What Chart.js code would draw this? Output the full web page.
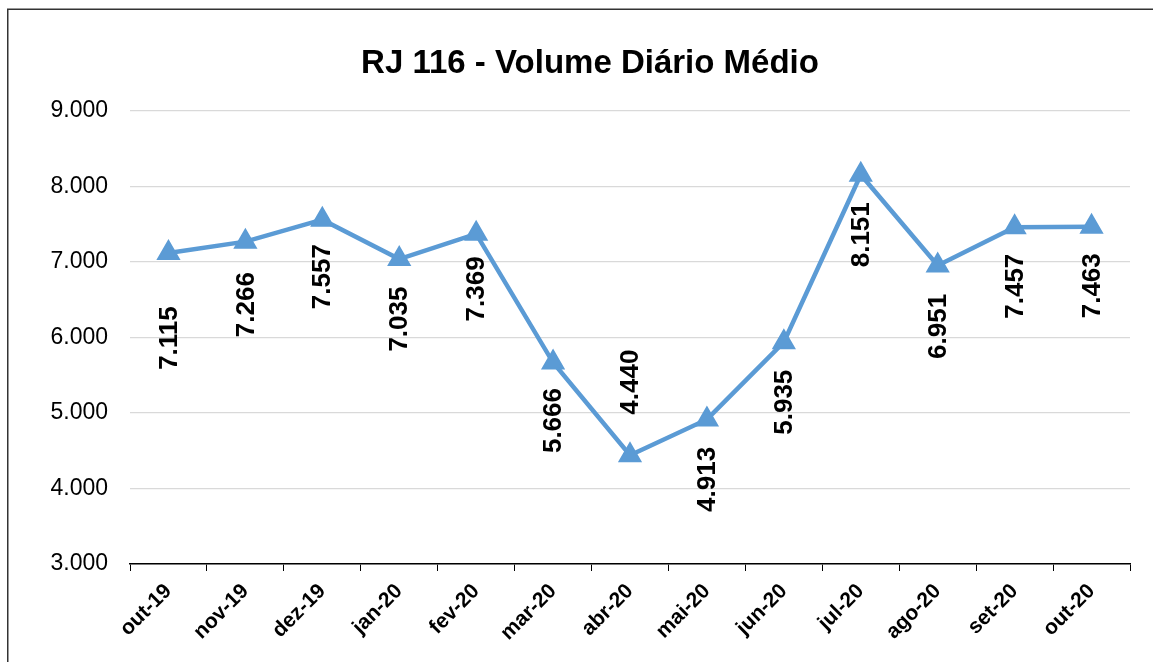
<!DOCTYPE html>
<html>
<head>
    <title>RJ 116 - Volume Diário Médio</title>
    <script src="https://cdn.jsdelivr.net/npm/chart.js"></script>
    <style>
        body { margin: 0; background: #fff; }
    </style>
</head>
<body>
    <canvas id="volumeChart" width="1153" height="662"></canvas>

    <script>
        const months = ['out-19', 'nov-19', 'dez-19', 'jan-20', 'fev-20', 'mar-20', 'abr-20',
                        'mai-20', 'jun-20', 'jul-20', 'ago-20', 'set-20', 'out-20'];
        const dailyVolume = [7115, 7266, 7557, 7035, 7369, 5666, 4440, 4913, 5935, 8151, 6951, 7457, 7463];
        const yTicks = [3000, 4000, 5000, 6000, 7000, 8000, 9000];

        // vertical distance of each value label from its point (negative = above the point)
        const labelShift = [85, 63, 57, 60, 55, 58, -73, 60, 60, 60, 61, 59, 59];

        const FONT = "'Liberation Sans', Arial, sans-serif";
        const BLUE = '#5B9BD5';

        // 7115 -> "7.115"
        const fmt = n => String(n).replace(/\B(?=(\d{3})+(?!\d))/g, '.');

        // white background plus the frame line on the left and top
        const frame = {
            id: 'frame',
            beforeDraw(chart) {
                const ctx = chart.ctx;
                ctx.save();
                ctx.fillStyle = '#fff';
                ctx.fillRect(0, 0, chart.width, chart.height);
                ctx.strokeStyle = '#333';
                ctx.lineWidth = 1.5;
                ctx.beginPath();
                ctx.moveTo(7.75, chart.height);
                ctx.lineTo(7.75, 9.25);
                ctx.lineTo(chart.width, 9.25);
                ctx.stroke();
                ctx.restore();
            }
        };

        // rotated value labels next to each point
        const valueLabels = {
            id: 'valueLabels',
            afterDatasetsDraw(chart) {
                const ctx = chart.ctx;
                const meta = chart.getDatasetMeta(0);
                ctx.save();
                ctx.font = 'bold 26px ' + FONT;
                ctx.fillStyle = '#000';
                ctx.textAlign = 'center';
                ctx.textBaseline = 'middle';
                meta.data.forEach((pt, i) => {
                    ctx.save();
                    ctx.translate(pt.x + 1, pt.y + labelShift[i]);
                    ctx.rotate(-Math.PI / 2);
                    ctx.fillText(fmt(dailyVolume[i]), 0, 0);
                    ctx.restore();
                });
                ctx.restore();
            }
        };

        const ctx = document.getElementById('volumeChart').getContext('2d');
        new Chart(ctx, {
            type: 'line',
            data: {
                labels: months,
                datasets: [{
                    label: 'Volume Diário Médio',
                    data: dailyVolume,
                    borderColor: BLUE,
                    backgroundColor: BLUE,
                    borderWidth: 4.5,
                    pointStyle: 'triangle',
                    pointRadius: 12,
                    pointBorderWidth: 2,
                    pointBackgroundColor: BLUE,
                    pointBorderColor: BLUE,
                    tension: 0,
                    fill: false
                }]
            },
            options: {
                responsive: false,
                animation: false,
                layout: {
                    padding: { left: 50, right: 23, top: 0, bottom: 0 }
                },
                plugins: {
                    legend: { display: false },
                    tooltip: { enabled: false },
                    title: {
                        display: true,
                        text: 'RJ 116 - Volume Diário Médio',
                        color: '#000',
                        font: { family: FONT, size: 33, weight: 'bold' },
                        padding: { top: 44, bottom: 27 }
                    }
                },
                scales: {
                    x: {
                        offset: true,
                        grid: {
                            offset: true,
                            drawOnChartArea: false,
                            drawTicks: true,
                            tickLength: 7,
                            color: '#000'
                        },
                        border: { color: '#000', width: 1.5 },
                        ticks: {
                            color: '#000',
                            font: { family: FONT, size: 21, weight: 'bold' },
                            minRotation: 45,
                            maxRotation: 45,
                            padding: 8
                        },
                        afterFit(scale) { scale.height = 98; }
                    },
                    y: {
                        min: yTicks[0],
                        max: yTicks[yTicks.length - 1],
                        afterBuildTicks(scale) {
                            scale.ticks = yTicks.map(v => ({ value: v }));
                        },
                        grid: { color: '#d9d9d9', lineWidth: 1.2, drawTicks: false },
                        border: { display: false },
                        ticks: {
                            color: '#000',
                            font: { family: FONT, size: 23 },
                            padding: 22,
                            callback: v => fmt(v)
                        },
                        afterFit(scale) { scale.width = 80; }
                    }
                }
            },
            plugins: [frame, valueLabels]
        });
    </script>
</body>
</html>
